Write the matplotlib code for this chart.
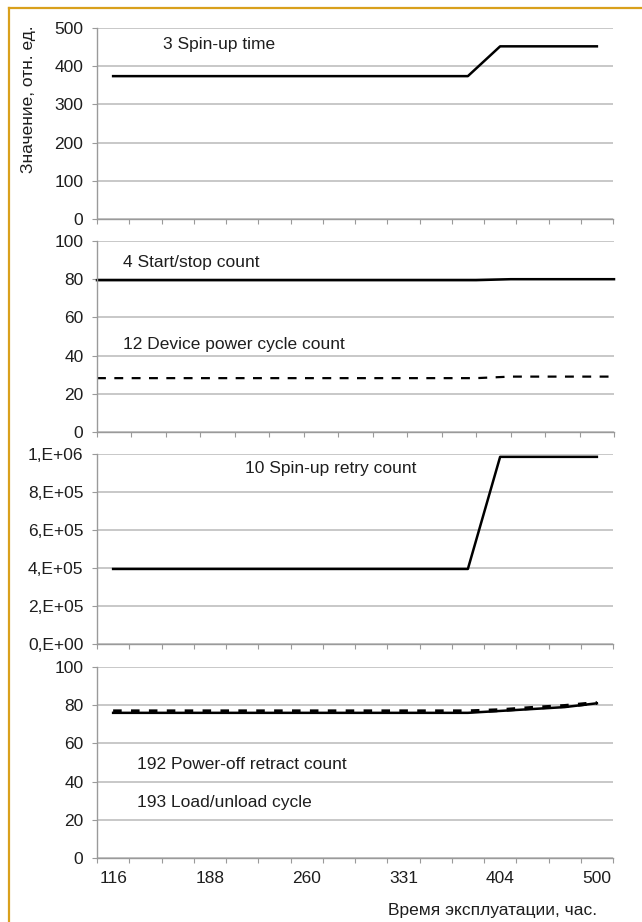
import numpy as np
import matplotlib
matplotlib.use("Agg")
import matplotlib.pyplot as plt
from matplotlib.lines import Line2D
from matplotlib.ticker import FuncFormatter

plt.rcParams['font.family'] = ['Liberation Sans', 'DejaVu Sans']
plt.rcParams['font.size'] = 12.5

idx = np.arange(16)
spin_up_time = [374, 374, 374, 374, 374, 374, 374, 374, 374, 374, 374, 374, 452, 452, 452, 452]
start_stop = [79.5, 79.5, 79.5, 79.5, 79.5, 79.5, 79.5, 79.5, 79.5, 79.5, 79.5, 79.5, 80, 80, 80, 80]
power_cycle = [28.2, 28.2, 28.2, 28.2, 28.2, 28.2, 28.2, 28.2, 28.2, 28.2, 28.2, 28.2, 29, 29, 29, 29]
retry_count = [395000, 395000, 395000, 395000, 395000, 395000, 395000, 395000,
               395000, 395000, 395000, 395000, 985000, 985000, 985000, 985000]
retract_count = [76, 76, 76, 76, 76, 76, 76, 76, 76, 76, 76, 76, 77, 78, 79, 81]
load_unload = [76.8, 76.8, 76.8, 76.8, 76.8, 76.8, 76.8, 76.8, 76.8, 76.8, 76.8, 76.8, 77.4, 78.6, 79.6, 81.2]

hour_labels = ['116', '188', '260', '331', '404', '500']
hour_pos = [0, 3, 6, 9, 12, 15]

W, H = 642, 922
FS = 12.5
fig = plt.figure(figsize=(W / 100, H / 100), dpi=100)
fig.patch.set_facecolor('white')

GRID = '#c4c4c4'
AXC = '#9a9a9a'
TXT = '#1e1e1e'


def rect(l, r, top, bot):
    return [l / W, 1 - bot / H, (r - l) / W, (bot - top) / H]


def style(ax, ymax, between=True):
    ax.set_ylim(0, ymax)
    ax.set_yticks(np.linspace(0, ymax, 6))
    if between:
        ax.set_xlim(-0.5, 15.5)
        ax.set_xticks(np.arange(-0.5, 16, 1))
    else:
        ax.set_xlim(0, 15)
        ax.set_xticks(np.arange(0, 16, 1))
    ax.set_xticklabels([])
    for s in ['top', 'right']:
        ax.spines[s].set_visible(False)
    for s in ['left', 'bottom']:
        ax.spines[s].set_color(AXC)
        ax.spines[s].set_linewidth(1.0)
    ax.grid(axis='y', color=GRID, linewidth=1.3)
    ax.set_axisbelow(True)
    ax.tick_params(axis='both', direction='out', length=3.8, width=0.8,
                   color=AXC, labelcolor=TXT, labelsize=FS)
    ax.tick_params(axis='y', pad=6)


def sci_label(v, p):
    if v <= 0:
        return '0,E+00'
    e = int(np.floor(np.log10(v) + 1e-9))
    return '%d,E+%02d' % (round(v / 10 ** e), e)


# panel 1: spin-up time
ax1 = fig.add_axes(rect(97, 613, 28, 219))
style(ax1, 500)
ax1.plot(idx, spin_up_time, color='black', lw=1.8)

# panel 2: start/stop and power cycle count
ax2 = fig.add_axes(rect(97, 614, 241, 432))
style(ax2, 100, between=False)
ax2.plot(idx, start_stop, color='black', lw=1.8, clip_on=False)
ax2.plot(idx, power_cycle, color='black', lw=1.6, linestyle=(0, (4.0, 3.8)), clip_on=False)

# panel 3: spin-up retry count
ax3 = fig.add_axes(rect(97, 613, 454, 644))
style(ax3, 1e6)
ax3.yaxis.set_major_formatter(FuncFormatter(sci_label))
ax3.plot(idx, retry_count, color='black', lw=1.8)

# panel 4: power-off retract / load-unload
ax4 = fig.add_axes(rect(97, 613, 667, 858))
style(ax4, 100)
ax4.plot(idx, retract_count, color='black', lw=1.8)
ax4.plot(idx, load_unload, color='black', lw=2.8, linestyle=(0, (2.2, 2.4)))
ax4.set_xticks(hour_pos, minor=True)
ax4.set_xticklabels(hour_labels, minor=True)
ax4.tick_params(axis='x', which='minor', length=0, pad=9, labelsize=FS, labelcolor=TXT)


# texts placed in pixel coordinates
def ptext(x, y, s, **kw):
    fig.text(x / W, 1 - y / H, s, color=TXT, fontsize=FS, **kw)


ptext(163, 45, '3 Spin-up time', va='center')
ptext(123, 262, '4 Start/stop count', va='center')
ptext(123, 344, '12 Device power cycle count', va='center')
ptext(245, 469, '10 Spin-up retry count', va='center')
ptext(137, 764, '192 Power-off retract count', va='center')
ptext(137, 802, '193 Load/unload cycle', va='center')
ptext(597, 910, 'Время эксплуатации, час.', va='center', ha='right')
ptext(29, 99, 'Значение, отн. ед.', va='center', ha='center', rotation=90)

# orange frame (left and top edges)
fig.add_artist(Line2D([8.5 / W, 8.5 / W], [0, 1 - 8.5 / H], color='#d9a01c', lw=1.6,
                      transform=fig.transFigure))
fig.add_artist(Line2D([8.5 / W, 1], [1 - 8.5 / H, 1 - 8.5 / H], color='#d9a01c', lw=1.6,
                      transform=fig.transFigure))

fig.savefig('out.png', dpi=100)
